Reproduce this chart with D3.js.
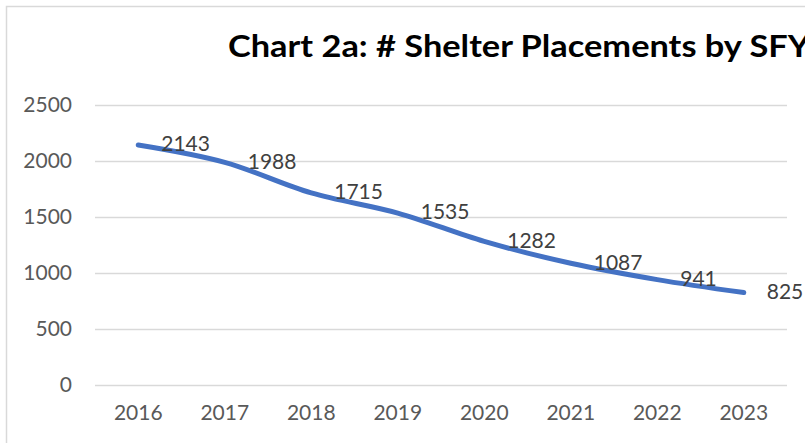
<!DOCTYPE html>
<html>
<head>
<meta charset="utf-8">
<script src="https://cdn.jsdelivr.net/npm/d3@7"></script>
<style>
  html, body { margin: 0; padding: 0; background: #fff; overflow: hidden; }
  text { font-family: Lato, "Open Sans", sans-serif; }
</style>
</head>
<body>
<div id="svg-container"></div>
<script>
// chart data
const years = ["2016", "2017", "2018", "2019", "2020", "2021", "2022", "2023"];
const placements = [2143, 1988, 1715, 1535, 1282, 1087, 941, 825];
const yTicks = [0, 500, 1000, 1500, 2000, 2500];
const title = "Chart 2a: # Shelter Placements by SFY";

const width = 805;
const height = 443;
const margin = { top: 105, right: 18, bottom: 58, left: 95 };

const svg = d3.select("#svg-container").append("svg")
  .attr("width", width)
  .attr("height", height);

// chart frame (runs off the right and bottom edges)
svg.append("rect")
  .attr("x", 6.5).attr("y", 6.5)
  .attr("width", width + 20).attr("height", height + 20)
  .attr("fill", "none")
  .attr("stroke", "#d9d9d9")
  .attr("stroke-width", 1.5);

const xScale = d3.scaleBand()
  .domain(years)
  .range([margin.left, width - margin.right]);
const yScale = d3.scaleLinear()
  .domain([0, 2500])
  .range([height - margin.bottom, margin.top]);

// gridlines
svg.append("g")
  .selectAll("line")
  .data(yTicks)
  .join("line")
  .attr("x1", margin.left)
  .attr("x2", width - margin.right)
  .attr("y1", (d) => Math.round(yScale(d)) + 0.5)
  .attr("y2", (d) => Math.round(yScale(d)) + 0.5)
  .attr("stroke", "#d9d9d9")
  .attr("stroke-width", 1.5);

// y axis
const yAxis = d3.axisLeft(yScale)
  .tickValues(yTicks)
  .tickFormat(d3.format("d"))
  .tickSize(0)
  .tickPadding(23);
svg.append("g")
  .attr("transform", `translate(${margin.left},0)`)
  .call(yAxis)
  .call((g) => g.select(".domain").remove())
  .selectAll("text")
  .attr("fill", "#595959")
  .style("font-size", "21px")
  .style("font-family", "Lato, 'Open Sans', sans-serif");

// x axis
const xAxis = d3.axisBottom(xScale).tickSize(0).tickPadding(20);
svg.append("g")
  .attr("transform", `translate(0,${height - margin.bottom})`)
  .call(xAxis)
  .call((g) => g.select(".domain").remove())
  .selectAll("text")
  .attr("fill", "#595959")
  .style("font-size", "21px")
  .style("font-family", "Lato, 'Open Sans', sans-serif");

const points = years.map((y, i) => ({ year: y, value: placements[i] }));

const lineGenerator = d3.line()
  .x((d) => xScale(d.year) + xScale.bandwidth() / 2)
  .y((d) => yScale(d.value))
  .curve(d3.curveCatmullRom.alpha(0.5));

svg.append("path")
  .datum(points)
  .attr("d", lineGenerator)
  .attr("fill", "none")
  .attr("stroke", "#4472c4")
  .attr("stroke-width", 5)
  .attr("stroke-linecap", "round")
  .attr("stroke-linejoin", "round");

// data labels to the right of each point
svg.append("g")
  .selectAll("text")
  .data(points)
  .join("text")
  .attr("x", (d) => xScale(d.year) + xScale.bandwidth() / 2 + 23)
  .attr("y", (d) => yScale(d.value) + 1)
  .attr("dominant-baseline", "middle")
  .attr("fill", "#404040")
  .style("font-size", "21px")
  .text((d) => d.value);

// title (clipped at the right edge, as in the source)
svg.append("text")
  .attr("x", 228)
  .attr("y", 57)
  .attr("fill", "#000")
  .attr("textLength", 582)
  .attr("lengthAdjust", "spacingAndGlyphs")
  .style("font-size", "30px")
  .style("font-weight", "bold")
  .text(title);
</script>
</body>
</html>
